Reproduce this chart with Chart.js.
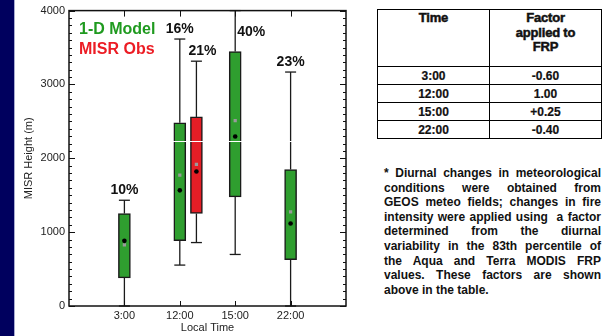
<!DOCTYPE html>
<html>
<head>
<meta charset="utf-8">
<script src="https://cdn.jsdelivr.net/npm/chart.js@4.4.0/dist/chart.umd.min.js"></script>
<style>
    body { margin: 0; width: 606px; height: 336px; position: relative; background: #fff; overflow: hidden; font-family: "Liberation Sans", Arial, sans-serif; }
    #franja { position: absolute; left: 0; top: 0; width: 14px; height: 336px; background: #00005e; border-right: 1.5px solid #a8acd0; }
    #contenedor { position: absolute; left: 0; top: 0; width: 350px; height: 336px; }
    #tabla { position: absolute; left: 377px; top: 9px; border-collapse: collapse; font-weight: bold; color: #111; }
    #tabla td { border: 1.5px solid #000; text-align: center; padding: 0; width: 111px; font-size: 12px; height: 17px; -webkit-text-stroke: 0.2px #111; }
    #tabla tr.cab td { height: 55px; vertical-align: top; font-size: 13px; line-height: 14.5px; padding-top: 1px; -webkit-text-stroke: 0.5px #111; letter-spacing: -0.2px; }
    #nota { position: absolute; left: 384px; top: 166px; width: 217px; font-weight: bold; font-size: 12px; line-height: 14.6px; color: #111; }
    #nota div { text-align: justify; text-align-last: justify; white-space: nowrap; }
    #nota div.ultima { text-align-last: left; }
</style>
</head>
<body>
<div id="franja"></div>
<div id="contenedor"><canvas id="chartAlturas"></canvas></div>
<table id="tabla"></table>
<div id="nota"></div>

<script>
var horas = ['3:00', '12:00', '15:00', '22:00'];
var posModelo = [1, 2, 3, 4];
var posObs = [2.3];

var modeloMin = [0, 554, 698, 0];
var modeloQ1 = [380, 886, 1477, 627];
var modeloQ3 = [1252, 2480, 3445, 1848];
var modeloMax = [1432, 3615, 4000, 3168];
var modeloMediana = [882, 1566, 2295, 1118];
var modeloMedia = [828, 1772, 2510, 1275];
var porcentajesModelo = ['10%', '16%', '40%', '23%'];

var obsMin = [859];
var obsQ1 = [1252];
var obsQ3 = [2560];
var obsMax = [3315];
var obsMediana = [1821];
var obsMedia = [1919];
var porcentajesObs = ['21%'];

var yTicks = [0, 1000, 2000, 3000, 4000];

var tablaHoras = ['3:00', '12:00', '15:00', '22:00'];
var tablaFactores = ['-0.60', '1.00', '+0.25', '-0.40'];

var notaLineas = [
    '* Diurnal changes in meteorological',
    'conditions were obtained from',
    'GEOS meteo fields; changes in fire',
    'intensity were applied using\u00a0 a factor',
    'determined from the diurnal',
    'variability in the 83th percentile of',
    'the Aqua and Terra MODIS FRP',
    'values. These factors are shown',
    'above in the table.'
];

var lineaBlanca = 2240;

// tabla y nota
var tabla = document.getElementById('tabla');
var html = '<tr class="cab"><td>Time</td><td>Factor<br>applied to<br>FRP</td></tr>';
tablaHoras.forEach(function (h, i) {
    html += '<tr><td>' + h + '</td><td>' + tablaFactores[i] + '</td></tr>';
});
tabla.innerHTML = html;

var nota = document.getElementById('nota');
notaLineas.forEach(function (t, i) {
    var d = document.createElement('div');
    d.textContent = t;
    if (i === notaLineas.length - 1) d.className = 'ultima';
    nota.appendChild(d);
});

function puntos(xs, ys) {
    return xs.map(function (x, i) { return { x: x, y: ys[i] }; });
}
function cajas(xs, lo, hi) {
    return xs.map(function (x, i) { return { x: x, y: [lo[i], hi[i]] }; });
}

var bigotes = {
    id: 'bigotes',
    beforeDatasetsDraw: function (chart) {
        var ctx = chart.ctx, xs = chart.scales.x, ys = chart.scales.y;
        ctx.save();
        ctx.strokeStyle = '#1a1a1a';
        ctx.lineWidth = 1.3;
        chart.data.datasets.forEach(function (ds) {
            if (!ds.bigMin) return;
            ds.data.forEach(function (p, i) {
                var x = xs.getPixelForValue(p.x);
                var pares = [[ds.bigMin[i], p.y[0]], [p.y[1], ds.bigMax[i]]];
                pares.forEach(function (par) {
                    ctx.beginPath();
                    ctx.moveTo(x, ys.getPixelForValue(par[0]));
                    ctx.lineTo(x, ys.getPixelForValue(par[1]));
                    ctx.stroke();
                });
                [ds.bigMin[i], ds.bigMax[i]].forEach(function (v) {
                    var y = ys.getPixelForValue(v);
                    ctx.beginPath();
                    ctx.moveTo(x - 5.5, y);
                    ctx.lineTo(x + 5.5, y);
                    ctx.stroke();
                });
            });
        });
        ctx.restore();
    },
    afterDatasetsDraw: function (chart) {
        var ctx = chart.ctx, xs = chart.scales.x, ys = chart.scales.y, a = chart.chartArea;
        ctx.save();
        // linea blanca
        ctx.strokeStyle = '#ffffff';
        ctx.lineWidth = 1.2;
        var yb = Math.round(ys.getPixelForValue(lineaBlanca)) + 0.5;
        ctx.beginPath();
        ctx.moveTo(a.left, yb);
        ctx.lineTo(a.right, yb);
        ctx.stroke();

        // marco y marcas
        ctx.strokeStyle = '#111';
        ctx.lineWidth = 1.5;
        ctx.strokeRect(a.left, a.top, a.right - a.left, a.bottom - a.top);
        ctx.lineWidth = 1;
        ctx.beginPath();
        for (var v = 0; v <= 4000; v += 100) {
            var y = Math.round(ys.getPixelForValue(v)) + 0.5;
            var l = (v % 1000 === 0) ? 6 : 3;
            ctx.moveTo(a.left, y); ctx.lineTo(a.left + l, y);
            ctx.moveTo(a.right, y); ctx.lineTo(a.right - l, y);
        }
        posModelo.forEach(function (p) {
            var x = Math.round(xs.getPixelForValue(p)) + 0.5;
            ctx.moveTo(x, a.top); ctx.lineTo(x, a.top + 6);
            ctx.moveTo(x, a.bottom); ctx.lineTo(x, a.bottom - 5);
        });
        ctx.stroke();

        // porcentajes
        ctx.fillStyle = '#111';
        ctx.font = 'bold 14px "Liberation Sans", Arial, sans-serif';
        ctx.textBaseline = 'middle';
        chart.data.datasets.forEach(function (ds) {
            if (!ds.porcentajes) return;
            ds.data.forEach(function (p, i) {
                var x = xs.getPixelForValue(p.x);
                var y = ys.getPixelForValue(ds.bigMax[i]) - 10;
                if (y < a.top + 12) {
                    ctx.textAlign = 'left';
                    ctx.fillText(ds.porcentajes[i], x + 2, a.top + 22);
                } else {
                    ctx.textAlign = 'center';
                    ctx.fillText(ds.porcentajes[i], x + (ds.desplTexto || 0), y);
                }
            });
        });

        // leyenda
        ctx.textAlign = 'left';
        ctx.font = 'bold 16px "Liberation Sans", Arial, sans-serif';
        var yl = a.top + 19;
        chart.data.datasets.forEach(function (ds) {
            if (!ds.colorLeyenda) return;
            ctx.fillStyle = ds.colorLeyenda;
            ctx.fillText(ds.label, a.left + 10, yl);
            yl += 20;
        });
        ctx.restore();
    }
};

var ctx = document.getElementById('chartAlturas').getContext('2d');

new Chart(ctx, {
    type: 'bar',
    data: {
        datasets: [{
            label: '1-D Model',
            data: cajas(posModelo, modeloQ1, modeloQ3),
            bigMin: modeloMin,
            bigMax: modeloMax,
            porcentajes: porcentajesModelo,
            colorLeyenda: '#1f9a1f',
            backgroundColor: '#2f9e2f',
            borderColor: '#1a1a1a',
            borderWidth: 1.5,
            borderSkipped: false,
            barThickness: 12,
            grouped: false,
            order: 3
        }, {
            label: 'MISR Obs',
            data: cajas(posObs, obsQ1, obsQ3),
            bigMin: obsMin,
            bigMax: obsMax,
            porcentajes: porcentajesObs,
            desplTexto: 6,
            colorLeyenda: '#ec1c24',
            backgroundColor: '#e41e26',
            borderColor: '#1a1a1a',
            borderWidth: 1.5,
            borderSkipped: false,
            barThickness: 12,
            grouped: false,
            order: 3
        }, {
            type: 'scatter',
            label: 'Media',
            data: puntos(posModelo.concat(posObs), modeloMedia.concat(obsMedia)),
            pointStyle: 'rect',
            pointRadius: 2.3,
            backgroundColor: '#9a9a9a',
            borderWidth: 0,
            order: 1
        }, {
            type: 'scatter',
            label: 'Mediana',
            data: puntos(posModelo.concat(posObs), modeloMediana.concat(obsMediana)),
            pointStyle: 'circle',
            pointRadius: 2.3,
            backgroundColor: '#000',
            borderWidth: 0,
            order: 0
        }]
    },
    options: {
        responsive: true,
        maintainAspectRatio: false,
        animation: false,
        layout: { padding: { left: 0, top: 8, right: 4, bottom: 0 } },
        plugins: {
            legend: { display: false },
            tooltip: { enabled: false }
        },
        scales: {
            x: {
                type: 'linear',
                min: 0,
                max: 5,
                offset: false,
                afterBuildTicks: function (s) {
                    s.ticks = posModelo.map(function (v) { return { value: v }; });
                },
                afterFit: function (s) { s.height = 30; },
                ticks: {
                    autoSkip: false,
                    maxRotation: 0,
                    padding: 3,
                    color: '#222',
                    font: { family: "'Liberation Sans', Arial, sans-serif", size: 11 },
                    callback: function (v) { return horas[posModelo.indexOf(v)]; }
                },
                grid: { display: false, drawTicks: false },
                border: { display: false },
                title: {
                    display: true,
                    text: 'Local Time',
                    color: '#222',
                    font: { family: "'Liberation Sans', Arial, sans-serif", size: 11 },
                    padding: { top: 0, bottom: 1 }
                }
            },
            y: {
                min: 0,
                max: 4000,
                afterBuildTicks: function (s) {
                    s.ticks = yTicks.map(function (v) { return { value: v }; });
                },
                afterFit: function (s) { s.width = 69; },
                ticks: {
                    padding: 4,
                    color: '#222',
                    font: { family: "'Liberation Sans', Arial, sans-serif", size: 11 },
                    callback: function (v) { return String(v); }
                },
                grid: { display: false, drawTicks: false },
                border: { display: false },
                title: {
                    display: true,
                    text: 'MISR Height (m)',
                    color: '#222',
                    font: { family: "'Liberation Sans', Arial, sans-serif", size: 11 },
                    padding: { top: 22, bottom: 0 }
                }
            }
        }
    },
    plugins: [bigotes]
});
</script>
</body>
</html>
